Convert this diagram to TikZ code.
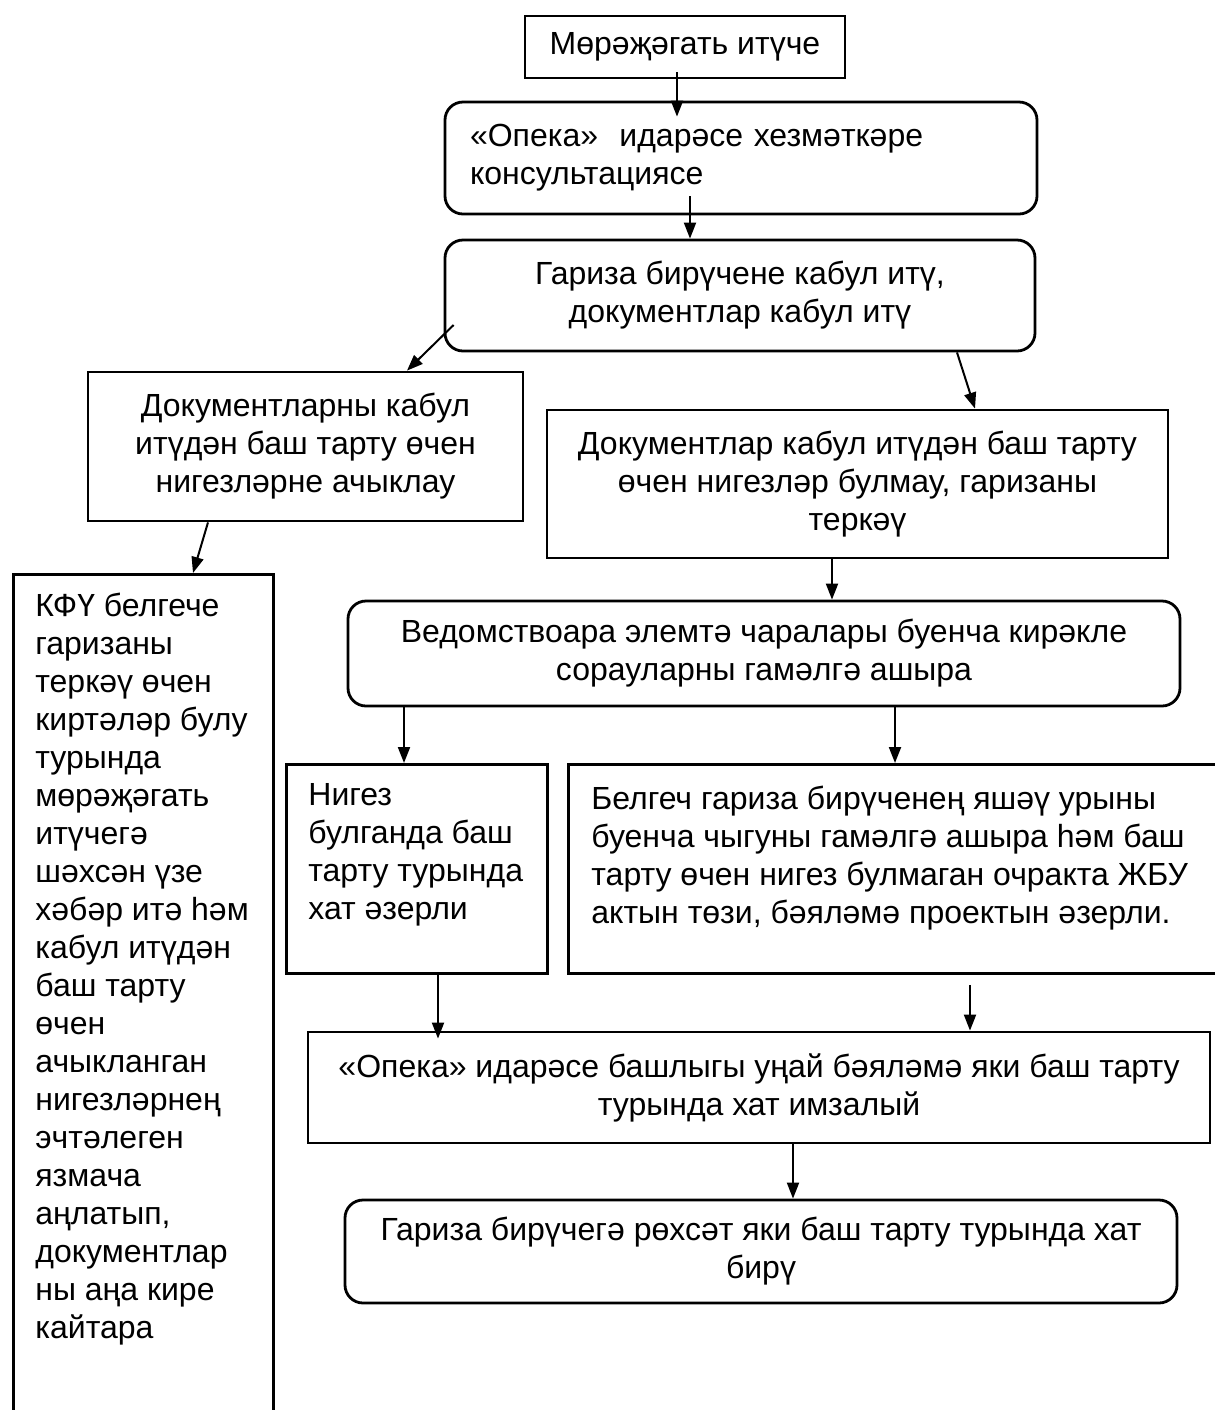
\documentclass[tikz,border=0pt]{standalone}
\usepackage{fontspec}
\setmainfont{Liberation Sans}
\usetikzlibrary{arrows.meta}

\begin{document}
\begin{tikzpicture}[x=0.5pt,y=-0.5pt,->,>={Triangle[length=8pt,width=6pt]},
  line width=1pt,font=\fontsize{16}{19}\selectfont,
  plain box/.style={draw,-,line width=1.4pt,align=center,inner sep=0pt},
  round box/.style={plain box,rounded corners=9pt},
  top box/.style={plain box,anchor=north west,align=left}]

  \useasboundingbox (0,0) rectangle (1215,1410);

  \node[plain box,minimum width=160pt,minimum height=31pt] (apply) at (685,47) {Мөрәҗәгать итүче};
  \node[round box,minimum width=296pt,minimum height=56pt,align=left,text width=271pt,inner xsep=12.5pt] (consult) at (741,158) {«Опека»~~идарәсе хезмәткәре\\консультациясе};
  \node[round box,minimum width=295pt,minimum height=55.5pt] (accept) at (740,295.5) {Гариза бирүчене кабул итү,\\документлар кабул итү};
  \node[plain box,minimum width=217.5pt,minimum height=74.5pt] (reveal) at (305.5,446.5) {Документларны кабул\\итүдән баш тарту өчен\\нигезләрне ачыклау};
  \node[plain box,minimum width=310.5pt,minimum height=74pt] (register) at (857.5,484) {Документлар кабул итүдән баш тарту\\өчен нигезләр булмау, гаризаны\\теркәү};
  \node[top box,inner xsep=11pt,inner ysep=9.5pt] (return) at (12,573) {\parbox[t][409.5pt][t]{108pt}{\raggedright
    КФҮ белгече\\гаризаны\\теркәү өчен\\киртәләр булу\\турында\\мөрәҗәгать\\итүчегә\\шәхсән үзе\\хәбәр итә һәм\\кабул итүдән\\баш тарту\\өчен\\ачыкланган\\нигезләрнең\\эчтәлеген\\язмача\\аңлатып,\\документлар\\ны аңа кире\\кайтара}};
  \node[round box,minimum width=416pt,minimum height=52.5pt] (request) at (764,653.5) {Ведомствоара элемтә чаралары буенча кирәкле\\сорауларны гамәлгә ашыра};
  \node[top box,inner xsep=11pt,inner ysep=9.5pt] (letter) at (285,763) {\parbox[t][85.5pt][t]{108.5pt}{\raggedright
    Нигез\\булганда баш\\тарту турында\\хат әзерли}};
  \node[top box,inner xsep=11.5pt,inner ysep=11pt] (visit) at (567,763) {\parbox[t][82.5pt][t]{308.5pt}{\raggedright
    Белгеч гариза бирүченең яшәү урыны\\буенча чыгуны гамәлгә ашыра һәм баш\\тарту өчен нигез булмаган очракта ЖБУ\\актын төзи, бәяләмә проектын әзерли.}};
  \node[plain box,minimum width=451pt,minimum height=55.5pt] (sign) at (759,1087.5) {«Опека» идарәсе башлыгы уңай бәяләмә яки баш тарту\\турында хат имзалый};
  \node[round box,minimum width=416pt,minimum height=51.5pt] (issue) at (761,1251.5) {Гариза бирүчегә рөхсәт яки баш тарту турында хат\\бирү};

  \path ([xshift=-4pt,yshift=3.5pt]apply.south) edge ([xshift=-32pt,yshift=-8pt]consult.north)
    ([xshift=-25.5pt,yshift=9.5pt]consult.south) edge ([xshift=-25pt]accept.north)
    ([xshift=5pt,yshift=-14.75pt]accept.west) edge ([xshift=50.75pt]reveal.north)
    ([xshift=108.5pt]accept.south) edge ([xshift=58.75pt]register.north)
    ([xshift=-48.75pt]reveal.south) edge ([xshift=24.8pt]return.north)
    ([xshift=-12.75pt]register.south) edge ([xshift=34pt]request.north)
    ([xshift=-180pt]request.south) edge ([xshift=-6.45pt]letter.north)
    ([xshift=65.5pt]request.south) edge ([xshift=-2.45pt]visit.north)
    ([xshift=10.55pt]letter.south) edge ([xshift=-160.5pt,yshift=-4pt]sign.north)
    ([xshift=35.05pt,yshift=-5pt]visit.south) edge ([xshift=105.5pt]sign.north)
    ([xshift=17pt]sign.south) edge ([xshift=16pt]issue.north);
\end{tikzpicture}
\end{document}
